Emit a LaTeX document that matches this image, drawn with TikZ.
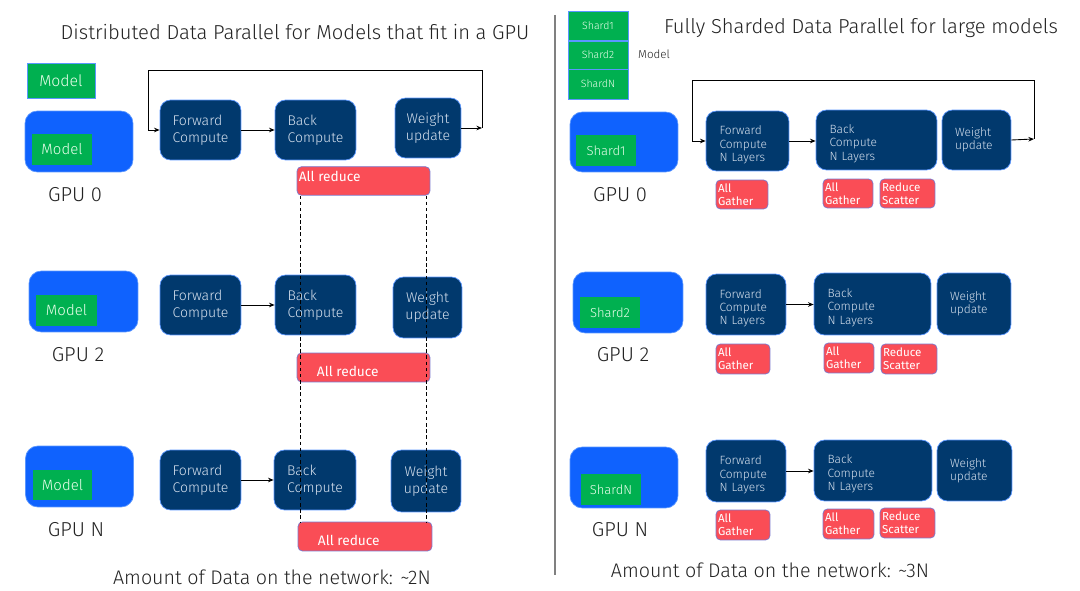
\documentclass[tikz,border=0pt]{standalone}
\usepackage{fontspec}
\IfFontExistsTF{Fira Sans Light}{\setmainfont{Fira Sans Light}}{\setmainfont{Fira Sans}}
\newfontfamily\redfont{Fira Sans}
\usepackage{xcolor}
\usepackage{tikz}
\usetikzlibrary{shapes,arrows,arrows.meta,positioning}
\definecolor{gpublue}{RGB}{15,98,254}
\definecolor{modelgreen}{RGB}{0,176,80}
\definecolor{stagenavy}{RGB}{1,57,109}
\definecolor{edgeblue}{RGB}{90,150,255}
\definecolor{reducered}{RGB}{250,77,86}
\definecolor{paletext}{RGB}{215,225,238}
\definecolor{inkgray}{RGB}{35,35,35}

\begin{document}
\begin{tikzpicture}[
    x=0.02cm, y=-0.02cm,
    gpubox/.style={rectangle, fill=gpublue, draw=edgeblue, line width=0.4pt, rounded corners=7pt, minimum width=2.16cm, minimum height=1.22cm},
    modelbox/.style={rectangle, fill=modelgreen, text=white!92!green, minimum width=1.2cm, minimum height=0.62cm, inner sep=0pt, font=\fontsize{8.5}{10}\selectfont},
    shardbox/.style={modelbox, font=\fontsize{7.4}{9}\selectfont},
    stage/.style={rectangle, fill=stagenavy, draw=edgeblue, line width=0.4pt, rounded corners=6pt, text=paletext, minimum height=1.2cm, font=\fontsize{8}{9.6}\selectfont, align=left},
    fstage/.style={stage, font=\fontsize{6.8}{7.6}\selectfont, align=left, inner xsep=0.27cm},
    reduce/.style={rectangle, fill=reducered, draw=edgeblue!80!red, line width=0.4pt, rounded corners=2.5pt, text=white, font=\redfont\fontsize{7.8}{9.6}\selectfont, minimum height=0.57cm},
    gather/.style={reduce, font=\redfont\fontsize{6.6}{7.2}\selectfont, align=left, inner sep=1pt, minimum height=0.58cm},
    gpulabel/.style={text=inkgray, font=\fontsize{11.5}{13}\selectfont},
    heading/.style={text=inkgray, font=\fontsize{11.5}{13}\selectfont},
    note/.style={text=inkgray, font=\fontsize{11.2}{13}\selectfont},
    flow/.style={->, >={Stealth[length=3.2pt, width=2.6pt]}, line width=0.5pt},
    link/.style={line width=0.4pt, dash pattern=on 2pt off 1.5pt}
]
\useasboundingbox (0,0) rectangle (1080,591);

% Divider
\draw[gray, line width=0.6pt] (555,15) -- (555,575);

%% ---------------- Distributed Data Parallel ----------------
\node[heading] (ddptitle) at (295,32) {Distributed Data Parallel for Models that fit in a GPU};
\node[modelbox, draw=edgeblue, line width=0.4pt, minimum width=1.36cm, minimum height=0.7cm, font=\fontsize{9}{10}\selectfont] (modelkey) at (61,80.5) {Model};

% GPU 0
\node[gpubox] (gpua) at (79,141.5) {};
\node[modelbox] (modela) at (62,149.5) {Model};
\node[gpulabel] (gpualabel) at (75,195) {GPU 0};
\node[stage, minimum width=1.62cm] (fwda) at (200.5,130) {Forward\\Compute};
\node[stage, minimum width=1.62cm] (backa) at (315.5,130) {Back\\Compute};
\node[stage, minimum width=1.32cm, align=center] (wua) at (428,128) {Weight\\update};
\node[reduce, minimum width=2.66cm] (reda) at (363.5,181) {};
\node[reduce, anchor=north west, minimum height=0pt, inner sep=1pt, draw=none, fill=none, yshift=-1.5pt] (redatext) at (reda.north west) {All reduce};

% GPU 2
\node[gpubox, minimum width=2.18cm] (gpub) at (83.5,301.5) {};
\node[modelbox, minimum width=1.22cm] (modelb) at (66.5,310.5) {Model};
\node[gpulabel] (gpublabel) at (78,355) {GPU 2};
\node[stage, minimum width=1.62cm] (fwdb) at (200.5,305) {Forward\\Compute};
\node[stage, minimum width=1.62cm] (backb) at (315.5,305) {Back\\Compute};
\node[stage, minimum width=1.38cm, minimum height=1.22cm, align=center] (wub) at (427.5,307.5) {Weight\\update};
\node[reduce, minimum width=2.66cm, minimum height=0.58cm] (redb) at (363.5,367.5) {};
\node[reduce, anchor=west, draw=none, fill=none, yshift=-2pt, xshift=8pt] (redbtext) at (redb.west) {All reduce};

% GPU N
\node[gpubox] (gpuc) at (79.5,476.5) {};
\node[modelbox, minimum height=0.6cm] (modelc) at (62.5,485) {Model};
\node[gpulabel] (gpuclabel) at (76,530) {GPU N};
\node[stage, minimum width=1.62cm] (fwdc) at (200.5,480) {Forward\\Compute};
\node[stage, minimum width=1.64cm] (backc) at (315,480) {Back\\Compute};
\node[stage, minimum width=1.4cm, minimum height=1.24cm, align=center] (wuc) at (426,481) {Weight\\update};
\node[reduce, minimum width=2.68cm, minimum height=0.58cm] (redc) at (365,536.5) {};
\node[reduce, anchor=west, draw=none, fill=none, yshift=-2pt, xshift=8pt] (redctext) at (redc.west) {All reduce};

% Arrows
\coordinate (loopa) at (482,128);
\draw[flow] (fwda) -- (backa);
\draw[flow] (fwdb) -- (backb);
\draw[flow] (fwdc) -- (backc);
\draw[flow] (wua.east) -- (loopa);
\draw[flow] (loopa) |- (148,70) |- (fwda.west);

% All-reduce links
\draw[link] ([xshift=2pt]reda.south west) -- ([xshift=2pt]reda.south west |- redc.north);
\draw[link] ([xshift=-2pt]reda.south east) -- ([xshift=-2pt]reda.south east |- redc.north);

\node[note] (ddpnote) at (272,577) {Amount of Data on the network: \textasciitilde 2N};

%% ---------------- Fully Sharded Data Parallel ----------------
\node[heading] (fsdptitle) at (861,28) {Fully Sharded Data Parallel for large models};
\node[modelbox, draw=edgeblue, line width=0.4pt, minimum height=0.58cm, font=\fontsize{6}{7}\selectfont] (shardkeya) at (598,25.5) {Shard1};
\node[modelbox, draw=edgeblue, line width=0.4pt, minimum height=0.56cm, font=\fontsize{6}{7}\selectfont] (shardkeyb) at (598,55) {Shard2};
\node[modelbox, draw=edgeblue, line width=0.4pt, minimum height=0.6cm, font=\fontsize{6}{7}\selectfont] (shardkeyc) at (598,84) {ShardN};
\node[text=inkgray, font=\fontsize{6.6}{8}\selectfont] (shardkeylabel) at (654,54) {Model};

% GPU 0
\node[gpubox, minimum height=1.2cm] (sgpua) at (624,142) {};
\node[shardbox] (sharda) at (606,150.5) {Shard1};
\node[gpulabel] (sgpualabel) at (620,195) {GPU 0};
\node[fstage, text width=1.12cm] (sfwda) at (747.5,141) {\rule{0pt}{9.5pt}Forward\\Compute\\N Layers};
\node[fstage, text width=1.88cm] (sbacka) at (876.5,140) {\rule{0pt}{9pt}Back\\Compute\\N Layers};
\node[fstage, text width=0.86cm, inner xsep=0.26cm] (swua) at (976.5,140) {Weight\\update\\[4pt]};
\node[gather, minimum width=1.04cm, text width=0.96cm] (gathera) at (742,194.5) {All\\Gather};
\node[gather, minimum width=1.0cm, text width=0.92cm] (gatherb) at (848,193.5) {All\\Gather};
\node[gather, minimum width=1.1cm, text width=1.02cm] (scattera) at (907.5,193.5) {Reduce\\Scatter};

% GPU 2
\node[gpubox, minimum width=2.2cm] (sgpub) at (628,302.5) {};
\node[shardbox] (shardb) at (610,312.5) {Shard2};
\node[gpulabel] (sgpublabel) at (623,355) {GPU 2};
\node[fstage, text width=1.06cm, minimum height=1.22cm] (sfwdb) at (746,304.5) {\rule{0pt}{9.5pt}Forward\\Compute\\N Layers};
\node[fstage, text width=1.8cm, minimum height=1.24cm] (sbackb) at (872.5,304) {\rule{0pt}{9pt}Back\\Compute\\N Layers};
\node[fstage, text width=0.96cm, minimum height=1.24cm, inner xsep=0.26cm] (swub) at (974,304) {Weight\\update\\[4pt]};
\node[gather, minimum width=1.08cm, text width=1.0cm, minimum height=0.6cm] (gatherc) at (743,359) {All\\Gather};
\node[gather, minimum width=1.0cm, text width=0.92cm, minimum height=0.6cm] (gatherd) at (849,358) {All\\Gather};
\node[gather, minimum width=1.12cm, text width=1.04cm, minimum height=0.6cm] (scatterb) at (909,359) {Reduce\\Scatter};

% GPU N
\node[gpubox] (sgpuc) at (624,477.5) {};
\node[shardbox, minimum width=1.22cm] (shardc) at (611,489.5) {ShardN};
\node[gpulabel] (sgpuclabel) at (620,530) {GPU N};
\node[fstage, text width=1.06cm, minimum height=1.24cm] (sfwdc) at (746,471) {\rule{0pt}{9.5pt}Forward\\Compute\\N Layers};
\node[fstage, text width=1.82cm, minimum height=1.22cm] (sbackc) at (873,470.5) {\rule{0pt}{9pt}Back\\Compute\\N Layers};
\node[fstage, text width=0.98cm, minimum height=1.22cm, inner xsep=0.26cm] (swuc) at (974.5,470.5) {Weight\\update\\[4pt]};
\node[gather, minimum width=1.08cm, text width=1.0cm, minimum height=0.6cm] (gathere) at (743,525) {All\\Gather};
\node[gather, minimum width=1.02cm, text width=0.94cm, minimum height=0.6cm] (gatherf) at (848.5,524) {All\\Gather};
\node[gather, minimum width=1.1cm, text width=1.02cm, minimum height=0.6cm] (scatterc) at (907.5,523) {Reduce\\Scatter};

% Arrows
\coordinate (loopb) at (1034,139);
\draw[flow] (sfwda) -- (sbacka.west |- sfwda);
\draw[flow] (sfwdb) -- (sbackb.west |- sfwdb);
\draw[flow] (sfwdc) -- (sbackc.west |- sfwdc);
\draw[flow] (swua.east) -- (loopb);
\draw[flow] (loopb) |- (692,80) |- (sfwda.west);

\node[note] (fsdpnote) at (770,570) {Amount of Data on the network: \textasciitilde 3N};

\end{tikzpicture}
\end{document}
